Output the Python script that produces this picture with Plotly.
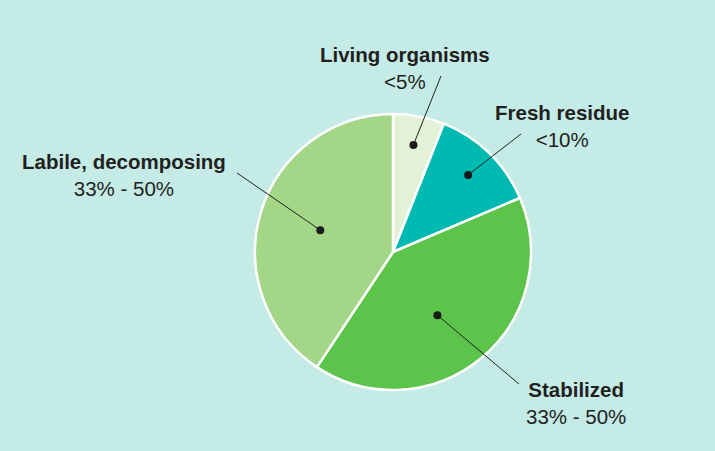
import math
import plotly.graph_objects as go

W, H = 715, 451

# Data
categories = ["Living organisms", "Fresh residue", "Stabilized", "Labile, decomposing"]
values = [6.0, 12.6, 40.7, 40.7]
range_labels = ["&lt;5%", "&lt;10%", "33% - 50%", "33% - 50%"]
colors = ["#e3f2d6", "#00bab1", "#5cc44b", "#a3d787"]

# Layout helpers (pixel geometry)
cx, cy, R = 393, 252, 138
dot_frac = [0.79, 0.78, 0.56, 0.55]
dot_shift = [0.0, 0.0, 0.013, 0.0]  # small angular nudge (fraction of circle)
label_pos = [(405, 68), (562, 126), (576, 403), (124, 175)]
line_end = [(441, 76), (521, 134), (519, 384), (237, 173)]

def px(x):
    return x / W

def py(y):
    return 1 - y / H

fig = go.Figure()
fig.add_trace(go.Pie(
    labels=categories, values=values, sort=False, direction="clockwise",
    rotation=0, textinfo="none", hoverinfo="label+percent",
    marker=dict(colors=colors, line=dict(color="white", width=2.5)),
    domain=dict(x=[px(cx - R), px(cx + R)], y=[py(cy + R), py(cy - R)]),
    showlegend=False,
))

shapes = []
annotations = []
total = sum(values)
cum = 0.0
for i, v in enumerate(values):
    mid = ((cum + v / 2) / total + dot_shift[i]) * 2 * math.pi
    cum += v
    r = dot_frac[i] * R
    dx = cx + r * math.sin(mid)
    dy = cy - r * math.cos(mid)
    ex, ey = line_end[i]
    shapes.append(dict(type="line", xref="paper", yref="paper",
                       x0=px(dx), y0=py(dy), x1=px(ex), y1=py(ey),
                       line=dict(color="#222222", width=1)))
    shapes.append(dict(type="circle", xref="paper", yref="paper",
                       xsizemode="pixel", ysizemode="pixel",
                       xanchor=px(dx), yanchor=py(dy),
                       x0=-4, x1=4, y0=-4, y1=4,
                       fillcolor="#1a1a1a", line=dict(width=0)))
    lx, ly = label_pos[i]
    annotations.append(dict(
        xref="paper", yref="paper", x=px(lx), y=py(ly),
        xanchor="center", yanchor="middle", showarrow=False, align="center",
        text=f"<b>{categories[i]}</b><br>{range_labels[i]}",
        font=dict(family="Liberation Sans, Arial, sans-serif", size=20.5, color="#231f20"),
    ))

fig.update_layout(
    width=W, height=H, margin=dict(l=0, r=0, t=0, b=0),
    paper_bgcolor="#c5ebe7", plot_bgcolor="#c5ebe7",
    shapes=shapes, annotations=annotations,
)

fig.write_html(
    "out.html",
    config={"displayModeBar": False},
    post_script="document.body.style.margin='0';document.body.style.padding='0';"
                "document.body.style.background='#c5ebe7';",
)
